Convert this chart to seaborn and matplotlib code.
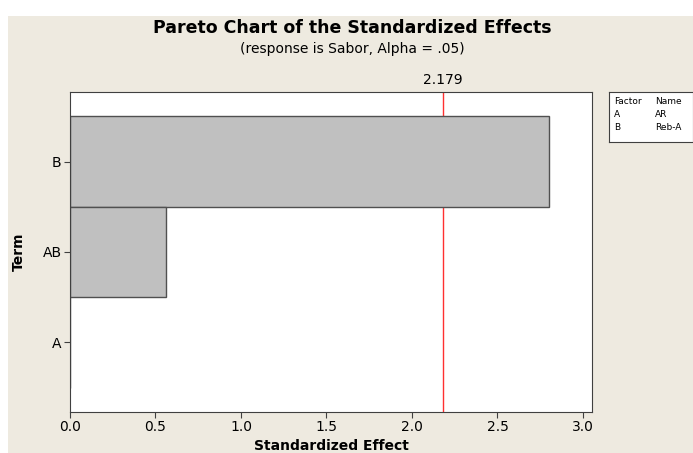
import matplotlib
matplotlib.use("Agg")
import matplotlib.pyplot as plt
import seaborn as sns
import pandas as pd
from matplotlib.patches import Rectangle

terms = ["B", "AB", "A"]
effects = [2.80, 0.56, 0.0]
critical = 2.179
factors = ["A", "B"]
factor_names = ["AR", "Reb-A"]

bg = "#EEEAE0"

sns.set_style("white")
plt.rcParams['font.family'] = ['DejaVu Sans']
plt.rcParams['text.color'] = 'black'
plt.rcParams['axes.labelcolor'] = 'black'
plt.rcParams['xtick.color'] = 'black'
plt.rcParams['ytick.color'] = 'black'

df = pd.DataFrame({"Term": terms, "Effect": effects})

fig = plt.figure(figsize=(6.93, 4.53), dpi=100, facecolor="white")
# beige panel, leaving the thin white strip on top and left like the screenshot
fig.patches.append(Rectangle((8 / 693, 0), 1, 1 - 16 / 453, transform=fig.transFigure,
                             facecolor=bg, edgecolor="none", zorder=-10))

ax = fig.add_axes([70 / 693, 1 - 412 / 453, 522 / 693, 320 / 453])
# reference line sits behind the bars
ax.axvline(critical, color="#FF3030", linewidth=1.0, zorder=0.5)
sns.barplot(data=df, y="Term", x="Effect", order=terms, orient="h", width=1.0,
            color="#C0C0C0", edgecolor="#505050", linewidth=1.0, saturation=1, ax=ax)
for p in ax.patches:
    p.set_zorder(2)

ax.set_xlim(0, 3.053)
ax.set_ylim(2.77, -0.77)
ax.text(critical, 1.015, f"{critical}", transform=ax.get_xaxis_transform(),
        ha="center", va="bottom", fontsize=10)

ax.set_xticks([0, 0.5, 1.0, 1.5, 2.0, 2.5, 3.0])
ax.set_xticklabels(["0.0", "0.5", "1.0", "1.5", "2.0", "2.5", "3.0"])
ax.tick_params(axis="both", direction="out", length=4, width=0.8, color="#404040",
               labelsize=10, bottom=True, left=True, pad=2)
for s in ax.spines.values():
    s.set_color("#404040")
    s.set_linewidth(0.8)

ax.set_xlabel("Standardized Effect", fontsize=10, fontweight="bold", labelpad=3)
ax.set_ylabel("Term", fontsize=10, fontweight="bold", labelpad=12)

fig.text(352 / 693, 1 - 28 / 453, "Pareto Chart of the Standardized Effects",
         ha="center", va="center", fontsize=12.5, fontweight="bold")
fig.text(352 / 693, 1 - 49 / 453, "(response is Sabor, Alpha = .05)",
         ha="center", va="center", fontsize=10)

# factor legend box
leg = fig.add_axes([609 / 693, 1 - 142 / 453, 84 / 693, 50 / 453])
leg.set_xlim(0, 1)
leg.set_ylim(0, 1)
leg.set_xticks([])
leg.set_yticks([])
leg.set_facecolor("white")
for s in leg.spines.values():
    s.set_color("#404040")
    s.set_linewidth(0.8)
rows = [("Factor", "Name")] + list(zip(factors, factor_names))
for i, (f, n) in enumerate(rows):
    y = 0.80 - i * 0.25
    leg.text(0.06, y, f, fontsize=6.5, va="center")
    leg.text(0.55, y, n, fontsize=6.5, va="center")

fig.savefig("out.png", dpi=100, facecolor=fig.get_facecolor())
